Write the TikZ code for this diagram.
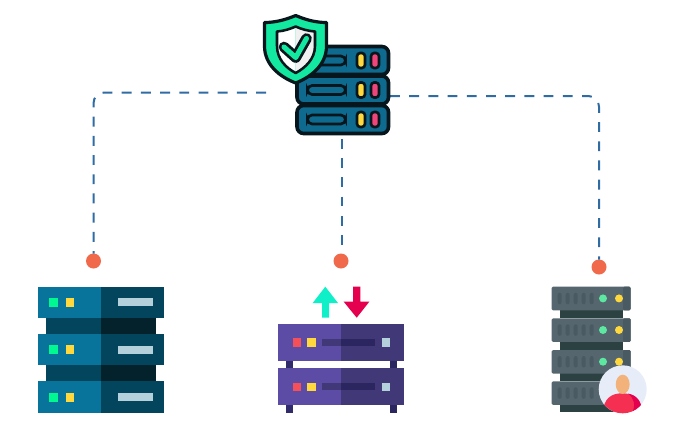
\documentclass[tikz,border=0pt]{standalone}
\usepackage{xcolor}
\usetikzlibrary{positioning}
\definecolor{linkblue}{HTML}{2F6CA3}
\definecolor{dotred}{HTML}{F0694A}
\definecolor{hubteal}{HTML}{0E6A8E}
\definecolor{hubdark}{HTML}{06161C}
\definecolor{shgreen}{HTML}{12E8A0}
\definecolor{tealA}{HTML}{08749C}
\definecolor{tealB}{HTML}{04455E}
\definecolor{tealC}{HTML}{04455E}
\definecolor{tealD}{HTML}{03222C}
\definecolor{ledgreen}{HTML}{00F890}
\definecolor{ledyellow}{HTML}{FFD83D}
\definecolor{barblue}{HTML}{B4D0DA}
\definecolor{purpA}{HTML}{5C4CA6}
\definecolor{purpB}{HTML}{413878}
\definecolor{purpC}{HTML}{2B2560}
\definecolor{ledred}{HTML}{F5505A}
\definecolor{pillpink}{HTML}{F0457A}
\definecolor{upcyan}{HTML}{10F0C8}
\definecolor{downred}{HTML}{E4004F}
\definecolor{grayA}{HTML}{55666E}
\definecolor{grayB}{HTML}{4A5A62}
\definecolor{grayC}{HTML}{2C4242}
\definecolor{roundgreen}{HTML}{5CE8A0}
\definecolor{bodyred}{HTML}{F52F52}
\definecolor{headtan}{HTML}{F2B27A}
\definecolor{facebg}{HTML}{E6ECF8}
\tikzset{
linkline/.style={
 draw=linkblue,
 line width=1.5pt,
 dash pattern=on 7.4pt off 7pt,
 rounded corners=8pt
 },
linkdot/.style={
 circle,
 fill=dotred,
 minimum size=11.25pt,
 inner sep=0pt,
 outer sep=0pt
 },
hubunit/.style={
 draw=hubdark,
 fill=hubteal,
 line width=2.7pt,
 rounded corners=5pt
 },
hubpill/.style={
 draw=hubdark,
 line width=2pt,
 rounded corners=2.4pt
 }
}
\begin{document}
\begin{tikzpicture}[x=0.75pt,y=-0.75pt]
\useasboundingbox (0,0) rectangle (681,436);
\node[linkdot] (dotL) at (93.5,261) {};
\node[linkdot] (dotM) at (341,261) {};
\node[linkdot] (dotR) at (599,267) {};
\coordinate (hubL) at (266,92.5);
\coordinate (hubM) at (342,139);
\coordinate (hubR) at (390,96);
\draw[linkline] (hubL) -| (dotL);
\draw[linkline] (hubM) -- (dotM.north -| hubM);
\draw[linkline] (hubR) -| (dotR);
\foreach \y in {46.5,76,105.5}{
 \draw[hubunit] (297,\y) rectangle (388.5,\y+28);
 \draw[hubpill,rounded corners=3.5pt] (307.5,\y+9.5) rectangle (345.5,\y+18.5);
 \draw[hubpill,fill=ledyellow] (357,\y+6.5) rectangle (365,\y+21.5);
 \draw[hubpill,fill=pillpink] (371,\y+6.5) rectangle (379,\y+21.5);
}
\draw[hubdark,fill=shgreen,line width=2.4pt,line join=round] (295.7,15.5) .. controls (306,20) and (316,22.5) .. (326.5,22.5) -- (326.5,46) .. controls (326.5,65) and (311,77) .. (295.7,83) .. controls (280,77) and (264.5,65) .. (264.5,46) -- (264.5,22.5) .. controls (275,22.5) and (285,20) .. (295.7,15.5) -- cycle;
\fill[white] (295.7,26.5) .. controls (290,29) and (284,31) .. (277,31.5) -- (277,46) .. controls (277,59) and (286,68) .. (295.7,73) -- cycle;
\fill[black!6] (295.7,26.5) .. controls (301,29) and (308,31) .. (315,31.5) -- (315,46) .. controls (315,59) and (305,68) .. (295.7,73) -- cycle;
\draw[hubdark,line width=1.9pt,line join=round] (295.7,26.5) .. controls (301,29) and (308,31) .. (315,31.5) -- (315,46) .. controls (315,59) and (305,68) .. (295.7,73) .. controls (286,68) and (277,59) .. (277,46) -- (277,31.5) .. controls (284,31) and (290,29) .. (295.7,26.5) -- cycle;
\draw[hubdark,line width=8pt,line cap=round,line join=round] (284,47) -- (295.7,57.5) -- (306.5,38.5);
\draw[shgreen,line width=3.8pt,line cap=round,line join=round] (284,47) -- (295.7,57.5) -- (306.5,38.5);
\foreach \y in {286.7,334,381.3}{
 \fill[tealA] (38,\y) rectangle (101,\y+31.4);
 \fill[tealB] (101,\y) rectangle (164,\y+31.4);
 \fill[ledgreen] (49.3,\y+11.2) rectangle (58.3,\y+20.2);
 \fill[ledyellow] (65.5,\y+11.2) rectangle (74,\y+20.2);
 \fill[barblue] (118.3,\y+11.7) rectangle (152.7,\y+19.7);
}
\foreach \y in {318.1,365.4}{
 \fill[tealC] (46,\y) rectangle (101,\y+15.9);
 \fill[tealD] (101,\y) rectangle (156,\y+15.9);
}
\foreach \y in {324,368.3}{
 \fill[purpC!85!purpA] (285.7,\y+36.7) rectangle (292.7,\y+44.6);
 \fill[purpC] (389.7,\y+36.7) rectangle (397,\y+44.6);
 \fill[purpA] (278,\y) rectangle (341,\y+36.7);
 \fill[purpB] (341,\y) rectangle (404,\y+36.7);
 \fill[ledred] (292.7,\y+14.3) rectangle (301,\y+22.5);
 \fill[ledyellow] (307.3,\y+14.3) rectangle (315.5,\y+22.5);
 \fill[purpB] (322.3,\y+15) rectangle (341,\y+22);
 \fill[purpC] (341,\y+15) rectangle (375,\y+22);
 \fill[barblue] (381.7,\y+14.3) rectangle (390,\y+22.5);
}
\fill[upcyan] (325.3,286.7) -- (338,303) -- (329,303) -- (329,317.7) -- (322,317.7) -- (322,303) -- (312.7,303) -- cycle;
\fill[downred] (356.7,317.7) -- (369.3,301.7) -- (360.3,301.7) -- (360.3,286.5) -- (353,286.5) -- (353,301.7) -- (343.7,301.7) -- cycle;
\foreach \y in {310,342,373}{
 \fill[grayC] (560,\y) rectangle (623,\y+8.3);
}
\fill[grayC] (560,405) rectangle (623,412.3);
\foreach \y in {286.7,318.3,350,381.3}{
 \fill[grayA,rounded corners=1pt] (551.7,\y) rectangle (630.7,\y+23.6);
 \fill[grayB,rounded corners=1pt] (623,\y) rectangle (630.7,\y+23.6);
 \foreach \x in {557.7,565.7,573.7,581.7,589.7}{
  \fill[grayB,rounded corners=1.5pt] (\x,\y+6) rectangle (\x+4,\y+17.5);
 }
 \fill[roundgreen] (603,\y+11.7) circle (3pt);
 \fill[ledyellow] (619,\y+11.7) circle (3pt);
}
\fill[facebg] (622.7,389.3) circle (18pt);
\begin{scope}
\clip (622.7,389.3) circle (18pt);
\fill[bodyred] (603,413.5) .. controls (603,398) and (612,393.3) .. (622,393.3) .. controls (634,393.3) and (642,399) .. (642,413.5) -- cycle;
\fill[downred] (628,393.6) .. controls (636,395) and (642,400) .. (642,413.5) -- (632,413.5) .. controls (636,405) and (634,398) .. (628,393.6) -- cycle;
\end{scope}
\fill[headtan] (622.7,384.3) ellipse (5.2pt and 7.2pt);
\end{tikzpicture}
\end{document}
